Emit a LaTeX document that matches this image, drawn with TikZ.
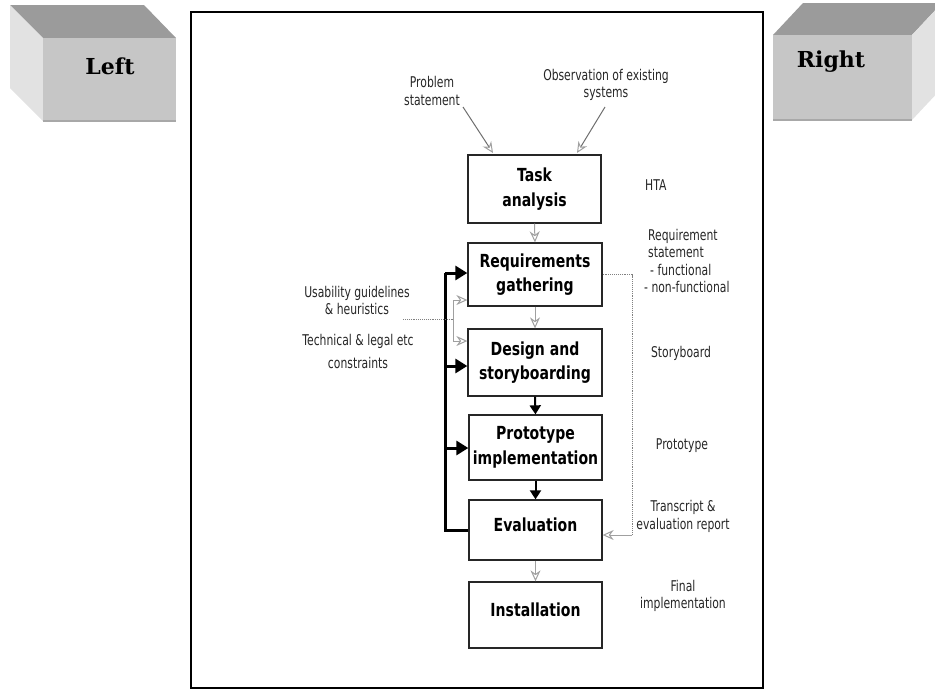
\documentclass[tikz,border=0pt]{standalone}
\usepackage{fontspec}
\usetikzlibrary{arrows.meta}
\newfontfamily\boxf[FakeStretch=0.78]{DejaVu Sans}
\newfontfamily\labf[FakeStretch=0.73]{DejaVu Sans}
\newfontfamily\cubef{DejaVu Serif}
\definecolor{cubetop}{HTML}{9B9B9B}
\definecolor{cubefront}{HTML}{C6C6C6}
\definecolor{cubeside}{HTML}{E2E2E2}
\definecolor{cubeedge}{HTML}{A8A8A8}
\definecolor{lightarrow}{HTML}{A0A0A0}
\definecolor{darkarrow}{HTML}{6E6E6E}
\begin{document}
\begin{tikzpicture}[x=1pt,y=-1pt,
  stagebox/.style={draw=black!85, line width=1.3pt, fill=white, minimum width=133pt, inner sep=0pt,
    font=\boxf\bfseries\fontsize{18}{24.5}\selectfont, align=center},
  stagetext/.style={inner sep=0pt, font=\boxf\bfseries\fontsize{18}{24.5}\selectfont, align=center},
  lab/.style={font=\labf\fontsize{14.8}{17.5}\selectfont, align=center, inner sep=0pt, text=black!85},
  cubelab/.style={font=\cubef\bfseries\fontsize{22}{26}\selectfont, inner sep=0pt, anchor=base},
  grayarrow/.style={draw=lightarrow, line width=1pt, -{Stealth[open, length=11pt, width=10pt]}},
  inarrow/.style={draw=darkarrow, line width=1pt, -{Stealth[open, length=11pt, width=10pt, lightarrow]}},
  grayline/.style={draw=lightarrow, line width=1pt},
  dotline/.style={draw=gray, line width=0.9pt, densely dotted},
  blackarrow/.style={draw=black, line width=2pt, -{Triangle[length=9pt, width=11pt]}},
  fbline/.style={draw=black, line width=3pt, line join=miter},
  fbarrow/.style={draw=black, line width=3pt, -{Triangle[length=12pt, width=14pt]}}
]
\clip (0,0) rectangle (935,691);
\useasboundingbox (0,0) rectangle (935,691);

% left cube
\fill[cubetop] (10,5) -- (144,5) -- (176,38) -- (43,38) -- cycle;
\fill[cubeside] (10,5) -- (43,38) -- (43,121) -- (10,88) -- cycle;
\fill[cubefront] (43,38) rectangle (176,121);
\draw[cubeedge, line width=2pt] (43,121) -- (176,121);
\node[cubelab] (lefttxt) at (110,74) {Left};

% right cube
\fill[cubetop] (773,35) -- (912,35) -- (942,3) -- (803,3) -- cycle;
\fill[cubeside] (912,35) -- (942,3) -- (942,88) -- (912,120) -- cycle;
\fill[cubefront] (773,35) rectangle (912,120);
\draw[cubeedge, line width=2pt] (773,120) -- (912,120);
\node[cubelab] (righttxt) at (831,67) {Right};

% frame
\draw[black, line width=2pt] (191,12) rectangle (763,688);

% stage boxes
\node[stagebox, minimum height=68pt] (task) at (534.5,189) {Task\\analysis};
\node[stagebox, minimum height=63pt, minimum width=134pt] (req) at (535,274.5) {Requirements\\gathering};
\node[stagebox, minimum height=67pt, minimum width=134pt] (design) at (535,362.5) {Design and\\storyboarding};
\node[stagebox, minimum height=65pt] (proto) at (535.5,447.5) {Prototype\\implementation};
\node[stagebox, minimum height=60pt] (eval) at (535.5,530) {};
\node[stagetext] (evaltxt) at (535.5,525) {Evaluation};
\node[stagebox, minimum height=66pt] (inst) at (535.5,615) {};
\node[stagetext] (insttxt) at (535.5,610) {Installation};

% top inputs
\node[lab] (prob) at (432,91) {Problem\\statement};
\node[lab, font=\labf\fontsize{14.8}{16.5}\selectfont] (obs) at (606,85) {Observation of existing\\systems};
\coordinate (pa) at (463,107);
\coordinate (pb) at (493,153);
\coordinate (oa) at (605,107);
\coordinate (ob) at (577,153);
\draw[inarrow] (pa) -- (pb);
\draw[inarrow] (oa) -- (ob);

% vertical flow
\draw[grayarrow] (task.south) -- (req.north);
\draw[grayarrow] (req.south) -- (design.north);
\draw[blackarrow] (design.south) -- (proto.north);
\draw[blackarrow] (proto.south) -- (eval.north);
\draw[grayarrow] (eval.south) -- (inst.north);

% feedback loop
\coordinate (fbtop) at (445,273);
\coordinate (fb2) at (445,366);
\coordinate (fb3) at (445,448);
\draw[fbline] (eval.west) -| (fbtop);
\draw[fbarrow] (fbtop) -- (req.west |- fbtop);
\draw[fbarrow] (fb2) -- (design.west |- fb2);
\draw[fbarrow] (fb3) -- (proto.west |- fb3);

% left inputs
\node[lab] (usab) at (357,300.5) {Usability guidelines\\\& heuristics};
\node[lab] (tech) at (358,351.5) {Technical \& legal etc\\[5pt]constraints};
\coordinate (ua) at (403,319);
\coordinate (uj) at (453,319);
\coordinate (ut) at (453,300);
\coordinate (ub) at (453,341);
\draw[dotline] (ua) -- (uj);
\draw[grayline] (ut) -- (ub);
\draw[grayarrow] (ut) -- (req.west |- ut);
\draw[grayarrow] (ub) -- (design.west |- ub);

% right loop
\coordinate (rc1) at (632,274.5);
\coordinate (rc2) at (632,535);
\draw[dotline] (req.east) -- (rc1) -- (rc2);
\draw[grayarrow] (rc2) -- (eval.east |- rc2);

% right outputs
\node[lab, anchor=west] (hta) at (645,185) {HTA};
\node[lab, anchor=north west, align=left] (reqst) at (644,229) {\hspace{4pt}Requirement\\\hspace{4pt}statement\\\hspace{6pt}- functional\\- non-functional};
\node[lab] (story) at (681,353) {Storyboard};
\node[lab] (prot) at (682,446) {Prototype};
\node[lab] (trans) at (683,516.5) {Transcript \&\\evaluation report};
\node[lab] (final) at (683,596) {Final\\implementation};
\end{tikzpicture}
\end{document}
